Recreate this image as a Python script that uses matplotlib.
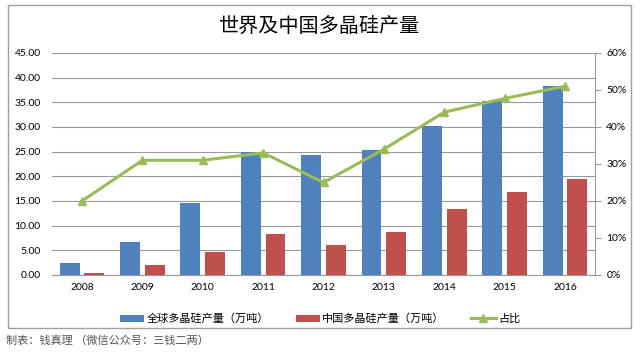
import matplotlib
matplotlib.use('Agg')
import matplotlib.pyplot as plt
import numpy as np
from matplotlib.patches import Rectangle

plt.rcParams['font.family'] = ['Noto Sans CJK SC', 'DejaVu Sans']

years = ['2008', '2009', '2010', '2011', '2012', '2013', '2014', '2015', '2016']
global_output = [2.4, 6.6, 14.5, 25.0, 24.4, 25.3, 30.1, 35.2, 38.3]
china_output = [0.5, 2.0, 4.6, 8.4, 6.1, 8.7, 13.3, 16.9, 19.5]
share = [20, 31, 31, 33, 25, 34, 44, 47.7, 51]

left_ticks = [0, 5, 10, 15, 20, 25, 30, 35, 40, 45]
right_ticks = [0, 10, 20, 30, 40, 50, 60]

blue = '#4F81BD'
red = '#C0504D'
green = '#9BBB59'

fig = plt.figure(figsize=(6.4, 3.53), dpi=100)
ax = fig.add_axes([0.081, 0.221, 0.849, 0.629])

x = np.arange(len(years))
w = 0.33
ax.bar(x - 0.205, global_output, w, color=blue, label='全球多晶硅产量（万吨）', zorder=3)
ax.bar(x + 0.205, china_output, w, color=red, label='中国多晶硅产量（万吨）', zorder=3)

ax.set_xlim(-0.5, len(years) - 0.5)
ax.set_ylim(0, 45)
ax.set_yticks(left_ticks)
ax.set_yticklabels([f'{v:.2f}' for v in left_ticks], fontsize=7.5, family='Lato')
ax.set_xticks(x)
ax.set_xticklabels(years, fontsize=7.5, family='Lato')
ax.grid(axis='y', color='#999999', linewidth=0.8, zorder=0)
for s in ['top', 'left', 'right']:
    ax.spines[s].set_visible(False)
ax.spines['bottom'].set_color('#999999')
ax.tick_params(axis='x', length=0, pad=6)
ax.tick_params(axis='y', length=0, pad=8)

ax2 = ax.twinx()
ax2.plot(x, share, color=green, linewidth=2.2, marker='^', markersize=6,
         label='占比', zorder=4)
ax2.set_ylim(0, 60)
ax2.set_yticks(right_ticks)
ax2.set_yticklabels([f'{v}%' for v in right_ticks], fontsize=7.5, family='Lato')
for s in ['top', 'left', 'bottom']:
    ax2.spines[s].set_visible(False)
ax2.spines['right'].set_color('#999999')
ax2.tick_params(axis='y', length=4, color='#999999', pad=4)

fig.text(0.5, 0.925, '世界及中国多晶硅产量', ha='center', va='center',
         fontsize=14.5, fontweight='medium')

h1, l1 = ax.get_legend_handles_labels()
h2, l2 = ax2.get_legend_handles_labels()
fig.legend(h1 + h2, l1 + l2, loc='center', bbox_to_anchor=(0.5, 0.097),
           ncol=3, frameon=False, fontsize=8, handlelength=2.2, handleheight=0.6,
           columnspacing=2.4, handletextpad=0.2)

fig.patches.append(Rectangle((0.012, 0.07), 0.974, 0.915, transform=fig.transFigure,
                             fill=False, edgecolor='#a0a0a0', linewidth=1))
fig.text(0.01, 0.035, '制表：钱真理 （微信公众号：三钱二两）', ha='left', va='center',
         fontsize=8, color='#555555', style='italic')

fig.savefig('out.png', dpi=100)
